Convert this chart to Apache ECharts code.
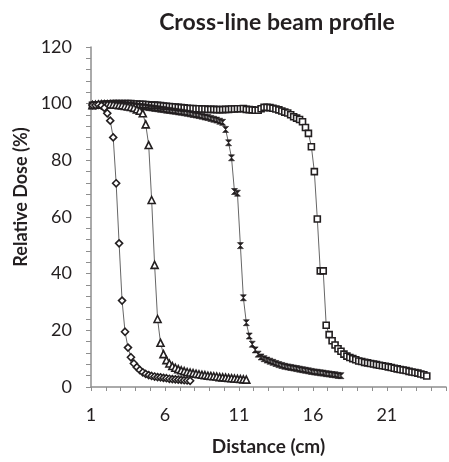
<!DOCTYPE html>
<html lang="en">
    <head>
        <meta charset="utf-8">
        <title>Cross-line beam profile</title>
        <script src="https://cdn.jsdelivr.net/npm/echarts@6.0.0/dist/echarts.min.js"></script>
        <style>
            html, body { margin: 0; padding: 0; background: #fff; }
        </style>
    </head>
    <body>
        <div id="main" style="width: 449px;height: 462px;"></div>

        <script type="text/javascript">

            // measurement positions (cm), shared by every profile
            const dist = [
                1.1, 1.3, 1.5, 1.7, 1.9, 2.1, 2.3, 2.5, 2.7, 2.9,
                3.1, 3.3, 3.5, 3.7, 3.9, 4.1, 4.3, 4.5, 4.7, 4.9,
                5.1, 5.3, 5.5, 5.7, 5.9, 6.1, 6.3, 6.5, 6.7, 6.9,
                7.1, 7.3, 7.5, 7.7, 7.9, 8.1, 8.3, 8.5, 8.7, 8.9,
                9.1, 9.3, 9.5, 9.7, 9.9, 10.1, 10.3, 10.5, 10.7, 10.9,
                11.1, 11.3, 11.5, 11.7, 11.9, 12.1, 12.3, 12.5, 12.7, 12.9,
                13.1, 13.3, 13.5, 13.7, 13.9, 14.1, 14.3, 14.5, 14.7, 14.9,
                15.1, 15.3, 15.5, 15.7, 15.9, 16.1, 16.3, 16.5, 16.7, 16.9,
                17.1, 17.3, 17.5, 17.7, 17.9, 18.1, 18.3, 18.5, 18.7, 18.9,
                19.1, 19.3, 19.5, 19.7, 19.9, 20.1, 20.3, 20.5, 20.7, 20.9,
                21.1, 21.3, 21.5, 21.7, 21.9, 22.1, 22.3, 22.5, 22.7, 22.9,
                23.1, 23.3, 23.5, 23.7
            ];

            // relative dose (%) per profile
            const doseDiamond = [
                99.5, 99.5, 99.6, 99.3, 98.5, 96.6, 94.0, 88.1, 71.9, 50.7,
                30.5, 19.5, 13.9, 10.5, 8.3, 7.0, 6.0, 5.2, 4.6, 4.2,
                3.9, 3.7, 3.5, 3.4, 3.2, 3.1, 2.9, 2.8, 2.7, 2.6,
                2.5, 2.4, 2.3, 2.2
            ];
            const doseTriangle = [
                99.5, 99.6, 99.7, 99.8, 99.8, 99.8, 99.8, 99.7, 99.6, 99.5,
                99.4, 99.2, 99.0, 98.8, 98.5, 98.0, 97.5, 96.6, 92.7, 85.4,
                66.0, 43.1, 24.0, 15.6, 11.6, 9.5, 8.3, 7.4, 6.8, 6.3,
                5.9, 5.6, 5.3, 5.1, 4.9, 4.7, 4.5, 4.3, 4.2, 4.0,
                3.9, 3.8, 3.7, 3.5, 3.4, 3.3, 3.2, 3.1, 3.0, 2.9,
                2.8, 2.7, 2.6
            ];
            const doseStar = [
                99.5, 99.6, 99.7, 99.8, 99.9, 99.9, 99.9, 99.9, 99.8, 99.8,
                99.7, 99.6, 99.5, 99.4, 99.3, 99.2, 99.0, 98.9, 98.8, 98.6,
                98.5, 98.3, 98.2, 98.0, 97.9, 97.7, 97.6, 97.4, 97.3, 97.1,
                97.0, 96.8, 96.6, 96.4, 96.2, 96.0, 95.8, 95.6, 95.3, 95.1,
                94.8, 94.5, 94.2, 93.8, 93.4, 90.9, 86.2, 80.9, 69.0, 68.4,
                49.9, 31.5, 22.7, 18.0, 15.1, 13.1, 11.6, 10.6, 10.0, 9.5,
                9.1, 8.7, 8.3, 7.9, 7.6, 7.3, 7.1, 6.9, 6.7, 6.5,
                6.3, 6.1, 5.9, 5.7, 5.5, 5.3, 5.2, 5.0, 4.9, 4.7,
                4.6, 4.4, 4.3, 4.1, 4.0
            ];
            const doseSquare = [
                99.4, 99.5, 99.6, 99.7, 99.8, 99.9, 99.9, 100, 100, 100,
                100, 100, 100, 100, 99.9, 99.9, 99.8, 99.8, 99.7, 99.6,
                99.5, 99.5, 99.4, 99.3, 99.2, 99.1, 99.0, 98.9, 98.8, 98.7,
                98.6, 98.5, 98.4, 98.3, 98.3, 98.2, 98.2, 98.1, 98.1, 98.0,
                98.0, 98.0, 97.9, 97.9, 97.9, 98.0, 98.0, 98.1, 98.1, 98.2,
                98.2, 98.3, 98.0, 97.9, 97.8, 97.7, 97.7, 98.2, 98.7, 98.7,
                98.6, 98.4, 98.1, 97.8, 97.4, 97.0, 96.7, 96.1, 95.4, 94.9,
                94.4, 93.6, 91.6, 89.5, 84.8, 76.0, 59.3, 41.0, 41.0, 21.8,
                18.5, 16.3, 14.8, 13.5, 12.6, 11.6, 10.9, 10.4, 10.0, 9.6,
                9.2, 9.0, 8.7, 8.5, 8.3, 8.1, 7.9, 7.7, 7.5, 7.3,
                7.1, 6.9, 6.6, 6.4, 6.2, 6.0, 5.8, 5.5, 5.3, 5.1,
                4.9, 4.6, 4.3, 3.9
            ];

            const xTicks = [1, 6, 11, 16, 21];
            const yTicks = [0, 20, 40, 60, 80, 100, 120];

            const ink = '#231f20';
            const axisGray = '#8e8e8e';
            const font = 'Lato, "Open Sans", sans-serif';

            function pairs(ys) {
                return ys.map((y, i) => [dist[i], y]);
            }

            function profile(name, ys, symbol, size, filled) {
                return {
                    name: name,
                    type: 'line',
                    data: pairs(ys),
                    symbol: symbol,
                    symbolSize: size,
                    showAllSymbol: true,
                    lineStyle: { color: '#666', width: 1 },
                    itemStyle: {
                        color: filled ? ink : '#fff',
                        borderColor: ink,
                        borderWidth: filled ? 0.6 : 1.6
                    },
                    emphasis: { disabled: true }
                };
            }

            let myChart = echarts.init(document.getElementById('main'));

            let options = {
                animation: false,
                textStyle: { fontFamily: font },
                title: {
                    text: 'Cross-line beam profile',
                    left: 272,
                    top: 6,
                    textAlign: 'center',
                    textStyle: { fontFamily: font, fontSize: 23, fontWeight: 'bold', color: ink }
                },
                grid: { left: 91, top: 47, width: 360, height: 340 },
                xAxis: {
                    type: 'value',
                    min: 1,
                    max: 25,
                    interval: 1,
                    name: 'Distance (cm)',
                    nameLocation: 'middle',
                    nameGap: 50,
                    nameTextStyle: { fontFamily: font, fontSize: 19, fontWeight: 'bold', color: ink },
                    axisLine: { lineStyle: { color: axisGray, width: 1.5 } },
                    axisTick: { length: 4, lineStyle: { color: axisGray } },
                    axisLabel: {
                        margin: 19,
                        fontSize: 18,
                        color: ink,
                        formatter: v => xTicks.includes(v) ? String(v) : ''
                    },
                    splitLine: { show: false }
                },
                yAxis: {
                    type: 'value',
                    min: yTicks[0],
                    max: yTicks[yTicks.length - 1],
                    interval: 20,
                    name: 'Relative Dose (%)',
                    nameLocation: 'middle',
                    nameGap: 59,
                    nameTextStyle: { fontFamily: font, fontSize: 18, fontWeight: 'bold', color: ink, padding: [0, 0, 0, 40] },
                    axisLine: { show: true, lineStyle: { color: axisGray, width: 1.5 } },
                    axisTick: { show: true, length: 5, lineStyle: { color: axisGray } },
                    minorTick: { show: true, splitNumber: 5, length: 5, lineStyle: { color: axisGray } },
                    axisLabel: { margin: 19, fontSize: 18, color: ink },
                    splitLine: { show: false }
                },
                series: [
                    profile('Square', doseSquare, 'rect', 6, false),
                    profile('Star', doseStar, 'path://M0,0L10,0L5,5L10,10L0,10L5,5Z', 6, true),
                    profile('Triangle', doseTriangle, 'triangle', 7, false),
                    profile('Diamond', doseDiamond, 'diamond', 7, false)
                ]
            };

            myChart.setOption(options);
        </script>
    </body>
</html>
